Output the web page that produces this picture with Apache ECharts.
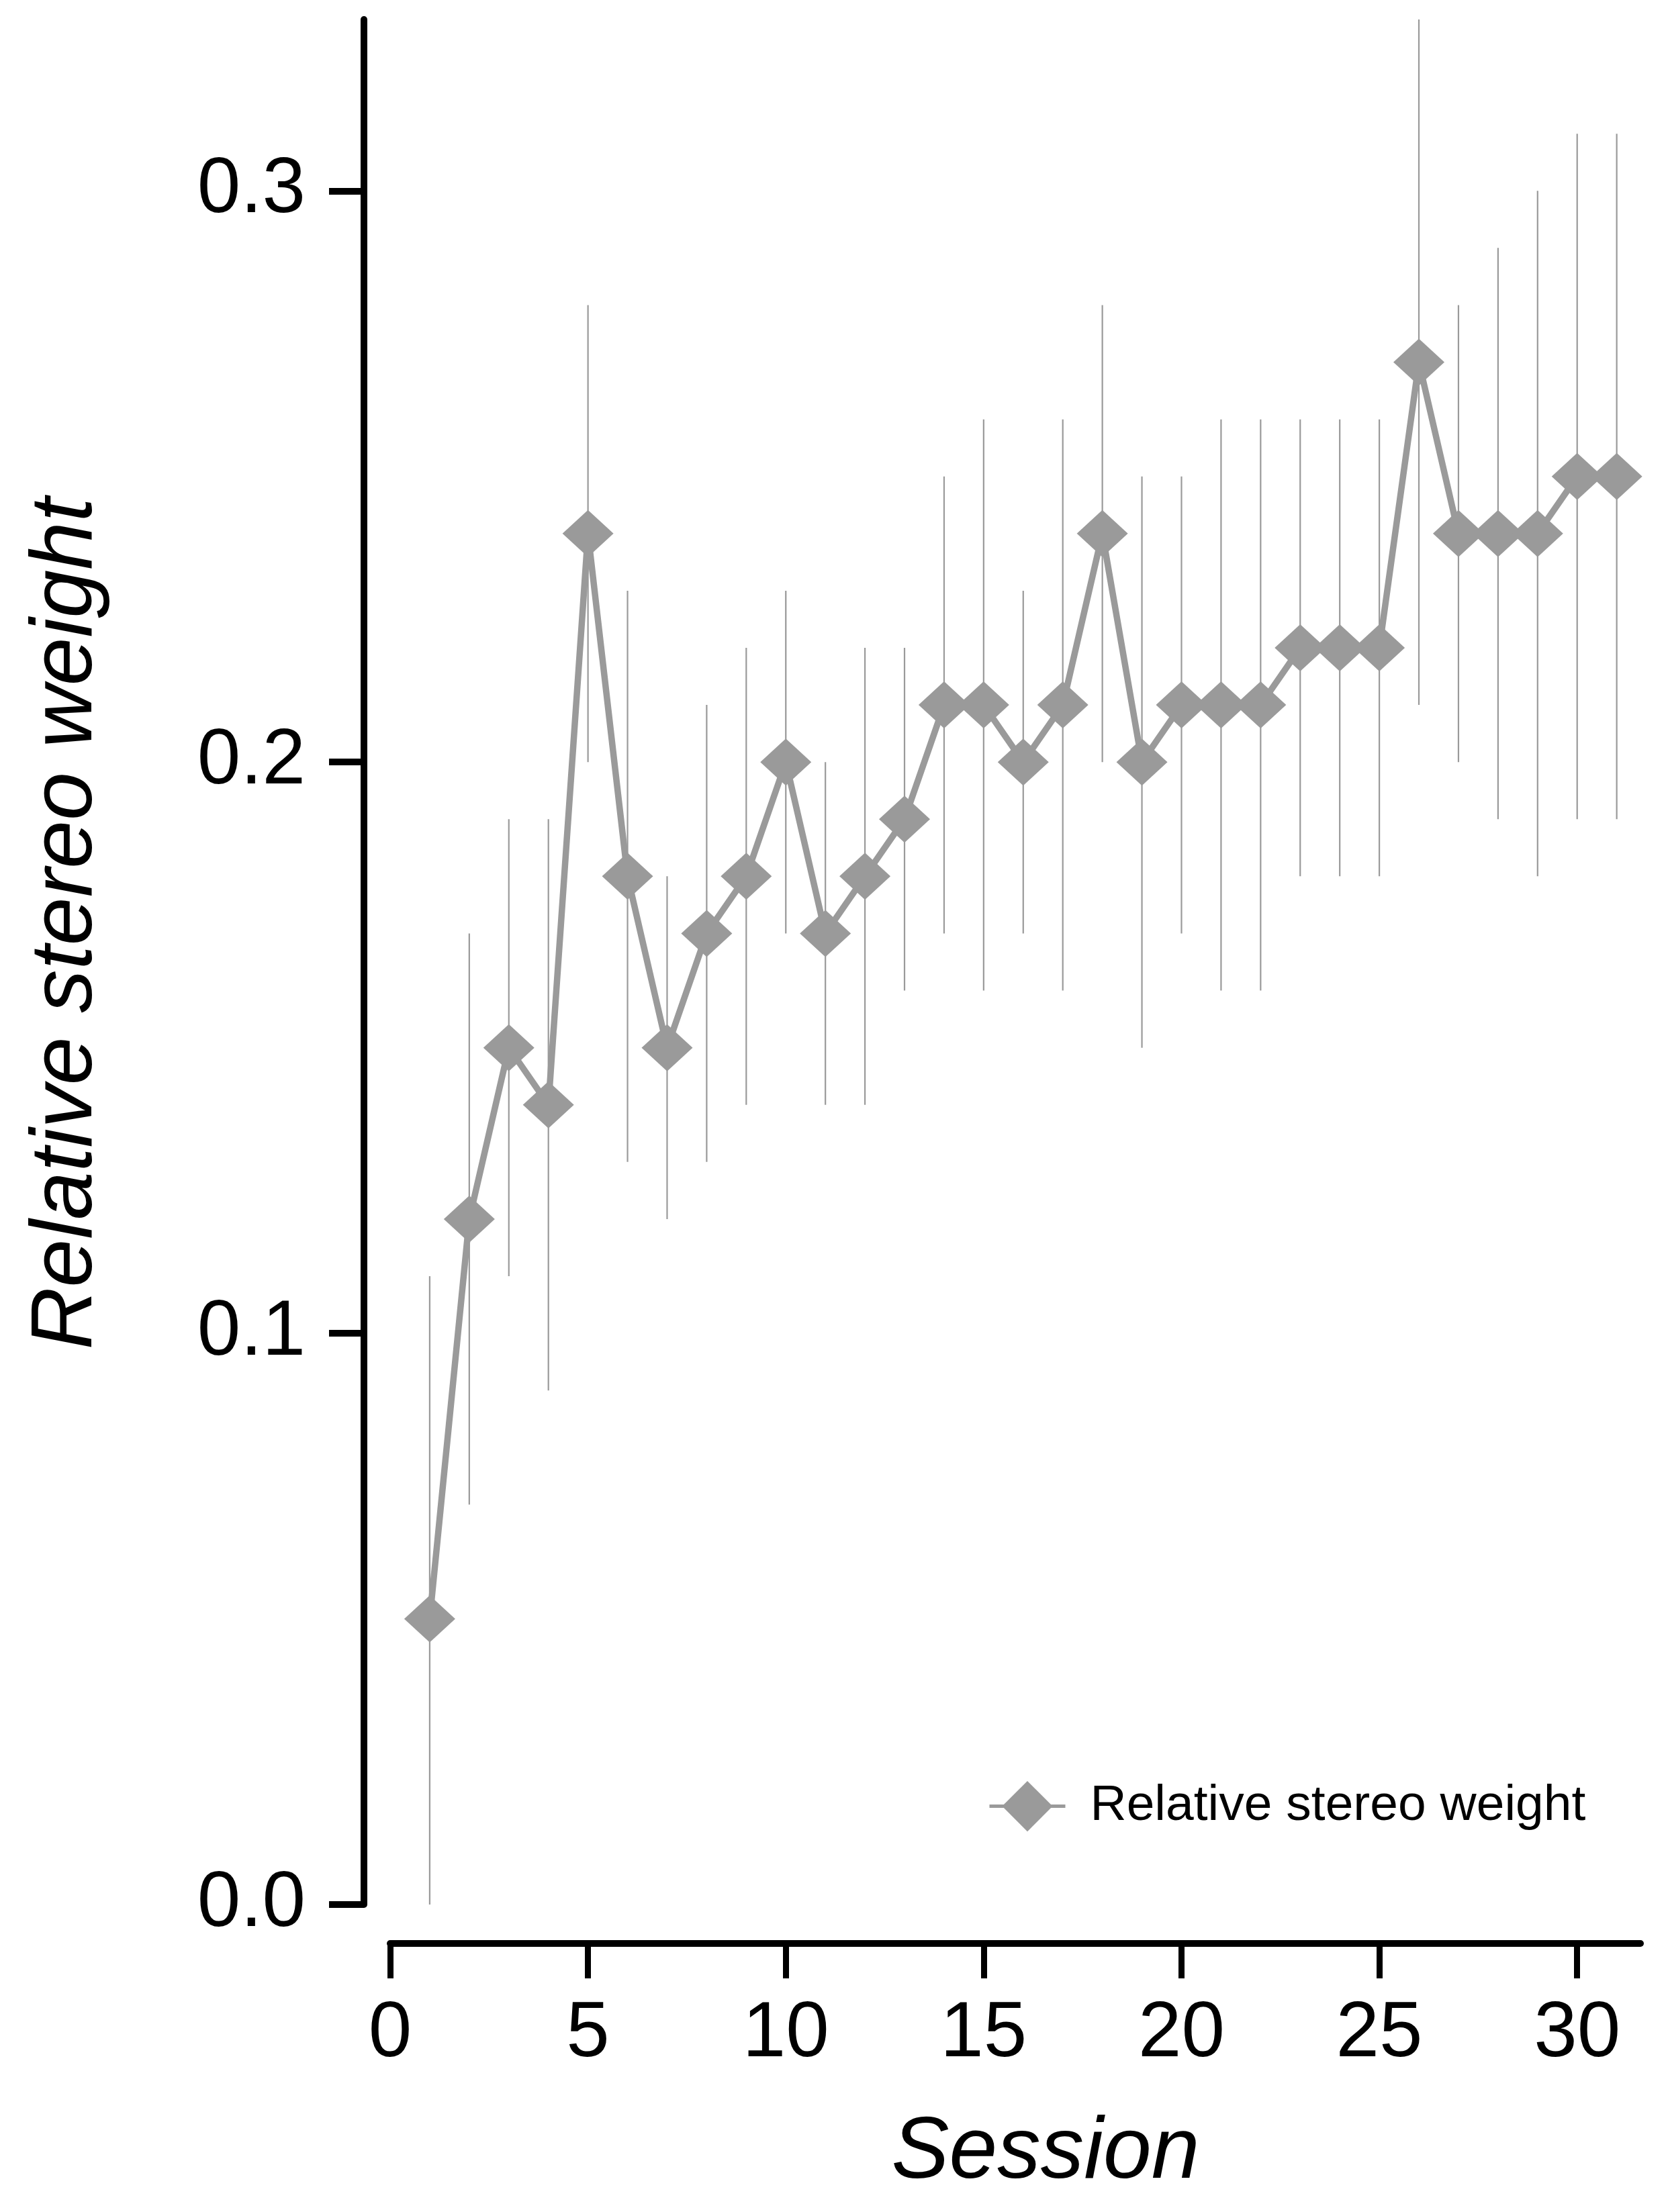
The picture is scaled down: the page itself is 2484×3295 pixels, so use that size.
<!DOCTYPE html>
<html>
<head>
<meta charset="utf-8">
<script src="https://cdn.jsdelivr.net/npm/echarts@6/dist/echarts.min.js"></script>
<style>
html,body{margin:0;padding:0;background:#fff;}
#chart{width:2484px;height:3295px;}
</style>
</head>
<body>
<div id="chart"></div>
<script>
const sessions = [1,2,3,4,5,6,7,8,9,10,11,12,13,14,15,16,17,18,19,20,21,22,23,24,25,26,27,28,29,30,31];
const weights  = [0.05,0.12,0.15,0.14,0.24,0.18,0.15,0.17,0.18,0.20,0.17,0.18,0.19,0.21,0.21,0.20,0.21,0.24,0.20,0.21,0.21,0.21,0.22,0.22,0.22,0.27,0.24,0.24,0.24,0.25,0.25];
const errLow   = [0.00,0.07,0.11,0.09,0.20,0.13,0.12,0.13,0.14,0.17,0.14,0.14,0.16,0.17,0.16,0.17,0.16,0.20,0.15,0.17,0.16,0.16,0.18,0.18,0.18,0.21,0.20,0.19,0.18,0.19,0.19];
const errHigh  = [0.11,0.17,0.19,0.19,0.28,0.23,0.18,0.21,0.22,0.23,0.20,0.22,0.22,0.25,0.26,0.23,0.26,0.28,0.25,0.25,0.26,0.26,0.26,0.26,0.26,0.33,0.28,0.29,0.30,0.31,0.31];
const xTicks = [0,5,10,15,20,25,30];
const yTicks = [0,0.1,0.2,0.3];
const seriesName = 'Relative stereo weight';
const xTitle = 'Session';
const yTitle = 'Relative stereo weight';

const GRAY = '#9a9a9a';
const FONT = "'Liberation Sans', Arial, sans-serif";

const chart = echarts.init(document.getElementById('chart'));
chart.setOption({
  animation: false,
  backgroundColor: '#ffffff',
  grid: {left: 581, right: 41, top: 29, bottom: 458, containLabel: false, outerBoundsMode: 'none'},
  legend: {
    data: [seriesName],
    left: 1466, top: 2648,
    itemWidth: 113, itemHeight: 94,
    lineStyle: {width: 5, color: GRAY},
    textStyle: {fontFamily: FONT, fontSize: 75, color: '#000', padding: [0,0,0,32]}
  },
  xAxis: {
    type: 'value', min: 0, max: 31.6, interval: 5,
    offset: 58,
    name: xTitle, nameLocation: 'middle', nameGap: 249,
    nameTextStyle: {fontFamily: FONT, fontSize: 129, fontStyle: 'italic', color: '#000', padding: [0,0,0,90]},
    axisLine: {onZero: false, lineStyle: {color: '#000', width: 10}},
    axisTick: {length: 52, lineStyle: {color: '#000', width: 9}, customValues: xTicks},
    axisLabel: {margin: 78, fontFamily: FONT, fontSize: 116, color: '#000', customValues: xTicks},
    splitLine: {show: false}
  },
  yAxis: {
    type: 'value', min: 0, max: 0.33, interval: 0.1,
    offset: 39,
    name: yTitle, nameLocation: 'middle', nameGap: 377, nameRotate: 90,
    nameTextStyle: {fontFamily: FONT, fontSize: 129, fontStyle: 'italic', color: '#000', padding: [0,0,0,114]},
    axisLine: {onZero: false, lineStyle: {color: '#000', width: 10}},
    axisTick: {length: 52, lineStyle: {color: '#000', width: 10}, customValues: yTicks},
    axisLabel: {margin: 87, fontFamily: FONT, fontSize: 116, color: '#000', customValues: yTicks,
      formatter: v => v.toFixed(1)},
    splitLine: {show: false}
  },
  series: [
    {
      type: 'custom',
      name: 'err',
      silent: true,
      data: sessions.map((s, i) => [s, errLow[i], errHigh[i]]),
      encode: {x: 0, y: [1, 2]},
      renderItem: function (params, api) {
        const p1 = api.coord([api.value(0), api.value(1)]);
        const p2 = api.coord([api.value(0), api.value(2)]);
        return {type: 'line', shape: {x1: p1[0], y1: p1[1], x2: p2[0], y2: p2[1]},
                style: {stroke: GRAY, lineWidth: 2.2}};
      },
      z: 1
    },
    {
      type: 'line',
      name: seriesName,
      data: sessions.map((s, i) => [s, weights[i]]),
      symbol: 'diamond',
      symbolSize: [76, 70],
      showAllSymbol: true,
      itemStyle: {color: GRAY},
      lineStyle: {color: GRAY, width: 9.5},
      z: 2
    }
  ]
});
</script>
</body>
</html>
